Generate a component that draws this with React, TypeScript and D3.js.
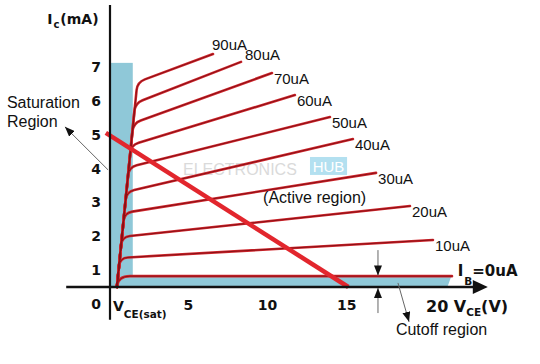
import React, { useEffect, useRef } from 'react';
import * as d3 from 'd3';

// base current of each characteristic curve (uA)
const baseCurrents = [0, 10, 20, 30, 40, 50, 60, 70, 80, 90];
// knee point (where curve leaves the saturation trunk) V_CE, I_C
const kneeVce = [0.57, 0.69, 0.82, 0.97, 1.1, 1.26, 1.39, 1.53, 1.65, 1.79];
const kneeIc = [0.32, 0.86, 1.48, 2.19, 2.81, 3.54, 4.19, 4.84, 5.43, 6.05];
// right end of each curve
const endVce = [21.64, 20.44, 18.99, 16.85, 15.39, 13.94, 11.73, 10.28, 8.33, 6.56];
const endIc = [0.32, 1.39, 2.39, 3.37, 4.37, 5.02, 5.67, 6.32, 6.65, 6.88];
// common start of all curves at the axis
const trunkStart = [0.5, 0];

// DC load line
const loadLine = [
  [-0.2, 4.55],
  [15.1, 0],
];

const yTicks = [0, 1, 2, 3, 4, 5, 6, 7];
const xTicks = [5, 10, 15];

// regions
const satRegion = { v0: 0, v1: 1.5, top: 6.62 };
const cutRegion = { v0: 0, v1: 21.6, top: 0.32 };

const App = () => {
  const ref = useRef<SVGSVGElement>(null);

  useEffect(() => {
    const svg = d3.select(ref.current);
    svg.selectAll('*').remove();

    const x = d3.scaleLinear().domain([0, 20]).range([109, 426]);
    const y = d3.scaleLinear().domain([0, 7]).range([287, 50]);

    const bold = 'DejaVu Sans, Verdana, sans-serif';
    const reg = 'Liberation Sans, Arial, sans-serif';

    svg.append('rect').attr('width', 540).attr('height', 364).attr('fill', '#fff');

    const defs = svg.append('defs');
    defs
      .append('marker')
      .attr('id', 'head')
      .attr('markerUnits', 'userSpaceOnUse')
      .attr('viewBox', '0 0 10 8')
      .attr('refX', 10)
      .attr('refY', 4)
      .attr('markerWidth', 10)
      .attr('markerHeight', 8)
      .attr('orient', 'auto')
      .append('path')
      .attr('d', 'M0,0 L10,4 L0,8 Z')
      .attr('fill', '#111');

    // shaded regions
    svg
      .append('rect')
      .attr('x', x(satRegion.v0))
      .attr('y', y(satRegion.top))
      .attr('width', x(satRegion.v1) - x(satRegion.v0))
      .attr('height', y(0) - y(satRegion.top))
      .attr('fill', '#8fc8d8');
    svg
      .append('path')
      .attr(
        'd',
        `M${x(cutRegion.v0)},${y(cutRegion.top)} L${x(cutRegion.v1)},${y(cutRegion.top)} L${x(cutRegion.v1) - 4},${y(0)} L${x(cutRegion.v0)},${y(0)} Z`,
      )
      .attr('fill', '#8fc8d8');

    // watermark
    svg
      .append('text')
      .attr('x', x(4.67))
      .attr('y', y(3.31))
      .attr('font-family', reg)
      .attr('font-size', 16)
      .attr('fill', '#dadada')
      .text('ELECTRONICS');
    svg
      .append('rect')
      .attr('x', x(12.68))
      .attr('y', y(3.84))
      .attr('width', x(15.02) - x(12.68))
      .attr('height', y(3.31) - y(3.84))
      .attr('fill', '#b3e0f0');
    svg
      .append('text')
      .attr('x', x(13.85))
      .attr('y', y(3.4))
      .attr('text-anchor', 'middle')
      .attr('font-family', reg)
      .attr('font-size', 15)
      .attr('fill', '#fff')
      .text('HUB');

    // characteristic curves
    const toward = (a: number[], b: number[], d: number) => {
      const dx = b[0] - a[0];
      const dy = b[1] - a[1];
      const t = Math.min(d / Math.hypot(dx, dy), 0.9);
      return [a[0] + dx * t, a[1] + dy * t];
    };
    const curvePath = (i: number) => {
      const p0 = [x(trunkStart[0]), y(trunkStart[1])];
      const c = [x(kneeVce[i]), y(kneeIc[i])];
      const e = [x(endVce[i]), y(endIc[i])];
      const r = i === 0 ? 12 : 8;
      const a = toward(c, p0, r);
      const b = toward(c, e, r);
      const p = d3.path();
      p.moveTo(p0[0], p0[1]);
      p.lineTo(a[0], a[1]);
      p.quadraticCurveTo(c[0], c[1], b[0], b[1]);
      p.lineTo(e[0], e[1]);
      return p.toString();
    };

    const curves = svg.append('g').attr('fill', 'none').attr('stroke-linecap', 'round');
    curves
      .selectAll('path.outer')
      .data(baseCurrents)
      .enter()
      .append('path')
      .attr('class', 'outer')
      .attr('d', (d, i) => curvePath(i))
      .attr('stroke', '#d0262c')
      .attr('stroke-width', 2.6);
    curves
      .selectAll('path.inner')
      .data(baseCurrents)
      .enter()
      .append('path')
      .attr('class', 'inner')
      .attr('d', (d, i) => curvePath(i))
      .attr('stroke', '#8a1016')
      .attr('stroke-width', 1);

    // curve labels (top two sit above the line end)
    svg
      .selectAll('text.ib')
      .data(baseCurrents.slice(1))
      .enter()
      .append('text')
      .attr('class', 'ib')
      .attr('x', (d, j) => x(endVce[j + 1]) + (j === 8 ? -1 : j === 7 ? 4 : 2))
      .attr('y', (d, j) => y(endIc[j + 1]) + (j === 8 ? -4 : j === 7 ? -2 : 11))
      .attr('font-family', reg)
      .attr('font-size', 15)
      .attr('fill', '#111')
      .text(d => `${d}uA`);

    // load line
    svg
      .append('path')
      .attr('d', d3.line()(loadLine.map(p => [x(p[0]), y(p[1])]) as [number, number][]))
      .attr('stroke', '#e2262d')
      .attr('stroke-width', 4.5)
      .attr('fill', 'none');

    // axes
    svg
      .append('line')
      .attr('x1', x(0) + 1)
      .attr('x2', x(0) + 1)
      .attr('y1', y(8.33))
      .attr('y2', y(-0.97))
      .attr('stroke', '#111')
      .attr('stroke-width', 2.2);
    svg
      .append('line')
      .attr('x1', x(-2.7))
      .attr('x2', x(23.1))
      .attr('y1', y(0))
      .attr('y2', y(0))
      .attr('stroke', '#111')
      .attr('stroke-width', 2.4);
    const tip = x(23.9);
    svg
      .append('path')
      .attr('d', `M${tip},${y(0)} L${tip - 15},${y(0) - 7} L${tip - 15},${y(0) + 7} Z`)
      .attr('fill', '#111');

    svg
      .selectAll('text.yt')
      .data(yTicks)
      .enter()
      .append('text')
      .attr('class', 'yt')
      .attr('x', x(-0.82))
      .attr('y', d => y(d) + 22)
      .attr('text-anchor', 'middle')
      .attr('font-family', bold)
      .attr('font-weight', 'bold')
      .attr('font-size', 14)
      .attr('fill', '#111')
      .text(d => d);

    svg
      .selectAll('text.xt')
      .data(xTicks)
      .enter()
      .append('text')
      .attr('class', 'xt')
      .attr('x', d => x(d))
      .attr('y', y(0) + 23)
      .attr('text-anchor', 'middle')
      .attr('font-family', bold)
      .attr('font-weight', 'bold')
      .attr('font-size', 14)
      .attr('fill', '#111')
      .text(d => d);

    // axis titles
    const yTitle = svg
      .append('text')
      .attr('x', x(-3.9))
      .attr('y', y(7.94) + 6)
      .attr('font-family', bold)
      .attr('font-weight', 'bold')
      .attr('font-size', 14)
      .attr('fill', '#111');
    yTitle.append('tspan').text('I');
    yTitle.append('tspan').attr('font-size', 10).attr('dy', 4).attr('dx', 1).text('c');
    yTitle.append('tspan').attr('dy', -4).attr('dx', 1).text('(mA)');

    const xTitle = svg
      .append('text')
      .attr('x', x(20))
      .attr('y', y(0) + 25)
      .attr('font-family', bold)
      .attr('font-weight', 'bold')
      .attr('font-size', 16)
      .attr('fill', '#111');
    xTitle.append('tspan').text('20 V');
    xTitle.append('tspan').attr('font-size', 10.5).attr('dy', 4).text('CE');
    xTitle.append('tspan').attr('dy', -4).text('(V)');

    const sat = svg
      .append('text')
      .attr('x', x(0.25))
      .attr('y', y(0) + 24)
      .attr('font-family', bold)
      .attr('font-weight', 'bold')
      .attr('font-size', 14)
      .attr('fill', '#111');
    sat.append('tspan').text('V');
    sat.append('tspan').attr('font-size', 10.5).attr('dy', 7).text('CE(sat)');

    const ib0 = svg
      .append('text')
      .attr('x', x(22))
      .attr('y', y(0.32))
      .attr('font-family', bold)
      .attr('font-weight', 'bold')
      .attr('font-size', 15)
      .attr('fill', '#111');
    ib0.append('tspan').text('I');
    ib0.append('tspan').attr('font-size', 10.5).attr('dy', 9).attr('dx', 1).text('B');
    ib0.append('tspan').attr('dy', -9).text('=0uA');

    // annotations
    const note = (v: number, i: number, s: string) =>
      svg
        .append('text')
        .attr('x', x(v))
        .attr('y', y(i))
        .attr('font-family', reg)
        .attr('font-size', 16)
        .attr('fill', '#111')
        .text(s);
    note(-6.44, 5.29, 'Saturation');
    note(-6.44, 4.73, 'Region');
    note(9.72, 2.48, '(Active region)');
    note(18.1, -1.42, 'Cutoff region');

    const arrow = (v1: number, i1: number, v2: number, i2: number) =>
      svg
        .append('line')
        .attr('x1', x(v1))
        .attr('y1', y(i1))
        .attr('x2', x(v2))
        .attr('y2', y(i2))
        .attr('stroke', '#666')
        .attr('stroke-width', 1)
        .attr('marker-end', 'url(#head)');
    arrow(-0.06, 3.46, -2.78, 4.73);
    arrow(18.23, 0.12, 18.93, -1.03);
    arrow(16.97, 1.09, 16.97, 0.34);
    arrow(16.97, -0.77, 16.97, -0.03);
  }, []);

  return (
    <svg
      ref={ref}
      width={540}
      height={364}
      style={{ position: 'absolute', left: 0, top: 0 }}
    />
  );
};

export default App;
